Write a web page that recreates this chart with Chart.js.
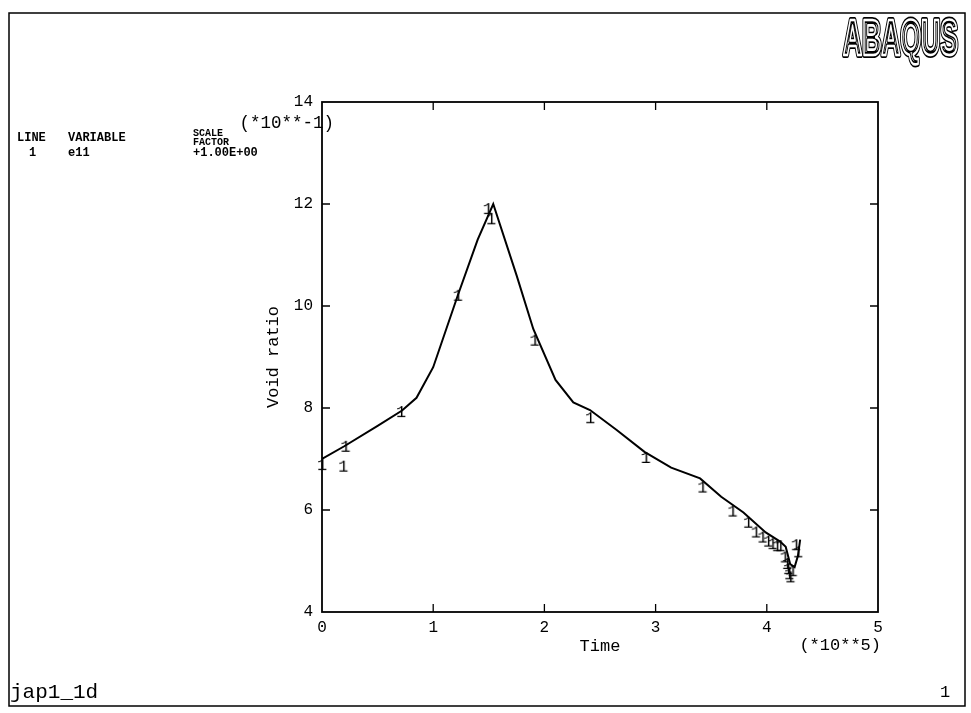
<!DOCTYPE html>
<html>
<head>
<meta charset="utf-8">
<script src="https://cdn.jsdelivr.net/npm/chart.js@4.4.1/dist/chart.umd.min.js"></script>
<style>
  html, body { margin: 0; padding: 0; background: #fff; }
  #wrap { width: 971px; height: 713px; position: relative; }
</style>
</head>
<body>
<div id="wrap"><canvas id="plot"></canvas></div>
<script>
  // Data block (time in 1e5, void ratio in 1e-1)
  const lineTime = [0, 0.2, 0.5, 0.72, 0.85, 1.0, 1.22, 1.4, 1.54, 1.75, 1.9, 2.1, 2.26, 2.41, 2.65, 2.9, 3.14, 3.4, 3.59, 3.79, 3.99, 4.12, 4.17, 4.21, 4.25, 4.28, 4.30];
  const lineVoid = [7.0, 7.25, 7.65, 7.95, 8.2, 8.8, 10.2, 11.3, 12.0, 10.6, 9.55, 8.55, 8.11, 7.96, 7.57, 7.14, 6.83, 6.62, 6.26, 5.95, 5.56, 5.38, 5.28, 4.94, 4.88, 5.1, 5.42];

  const markTime = [0.0, 0.19, 0.21, 0.71, 1.22, 1.49, 1.52, 1.91, 2.41, 2.91, 3.42, 3.69, 3.83, 3.90, 3.96, 4.01, 4.05, 4.09, 4.12, 4.16, 4.18, 4.19, 4.20, 4.21, 4.23, 4.26, 4.28];
  const markVoid = [6.88, 6.85, 7.24, 7.92, 10.2, 11.9, 11.7, 9.32, 7.80, 7.02, 6.44, 5.97, 5.75, 5.56, 5.46, 5.38, 5.33, 5.29, 5.29, 5.07, 4.94, 4.84, 4.74, 4.68, 4.80, 5.31, 5.17];

  const xTicks = [0, 1, 2, 3, 4, 5];
  const yTicks = [4, 6, 8, 10, 12, 14];

  const monoFont = "'Liberation Mono', 'DejaVu Sans Mono', monospace";

  // "1" glyph used as the curve marker
  const markGlyph = document.createElement('canvas');
  markGlyph.width = 12;
  markGlyph.height = 18;
  (function () {
    const g = markGlyph.getContext('2d');
    g.fillStyle = '#000';
    g.font = '17px ' + monoFont;
    g.textAlign = 'center';
    g.textBaseline = 'middle';
    g.fillText('1', 6, 9);
  })();

  const toXY = (xs, ys) => xs.map((v, i) => ({ x: v, y: ys[i] }));

  // Plugin - frame, inward ticks and the page texts
  const pageDeco = {
    id: 'pageDeco',
    afterDraw(chart) {
      const { ctx, chartArea: a, scales: { x, y } } = chart;
      ctx.save();
      ctx.strokeStyle = '#000';

      // page border
      ctx.lineWidth = 1.5;
      ctx.strokeRect(9, 13, 956, 693);

      // plot box
      ctx.lineWidth = 1.8;
      ctx.strokeRect(a.left, a.top, a.right - a.left, a.bottom - a.top);

      // inward ticks
      ctx.lineWidth = 1.3;
      ctx.beginPath();
      xTicks.slice(1, -1).forEach(v => {
        const px = x.getPixelForValue(v);
        ctx.moveTo(px, a.bottom); ctx.lineTo(px, a.bottom - 8);
        ctx.moveTo(px, a.top); ctx.lineTo(px, a.top + 8);
      });
      yTicks.slice(1, -1).forEach(v => {
        const py = y.getPixelForValue(v);
        ctx.moveTo(a.left, py); ctx.lineTo(a.left + 8, py);
        ctx.moveTo(a.right, py); ctx.lineTo(a.right - 8, py);
      });
      ctx.stroke();

      ctx.fillStyle = '#000';
      ctx.textBaseline = 'middle';

      // axis multipliers
      ctx.font = '17.5px ' + monoFont;
      ctx.textAlign = 'right';
      ctx.fillText('(*10**-1)', a.left + 12, a.top + 21);
      ctx.font = '17px ' + monoFont;
      ctx.fillText('(*10**5)', a.right + 3, 645);

      // legend block
      ctx.textAlign = 'left';
      ctx.font = 'bold 12px ' + monoFont;
      ctx.fillText('LINE', 17, 138);
      ctx.fillText('VARIABLE', 68, 138);
      ctx.fillText('1', 29, 153);
      ctx.fillText('e11', 68, 153);
      ctx.fillText('+1.00E+00', 193, 153);
      ctx.font = 'bold 10px ' + monoFont;
      ctx.fillText('SCALE', 193, 133);
      ctx.fillText('FACTOR', 193, 142);

      // footer
      ctx.font = '21px ' + monoFont;
      ctx.fillText('jap1_1d', 10, 692);
      ctx.font = '17px ' + monoFont;
      ctx.fillText('1', 940, 692);

      // ABAQUS logo, outlined
      ctx.save();
      ctx.translate(843, 55);
      ctx.scale(0.53, 1);
      ctx.font = 'bold 50px "Liberation Sans", Arial, sans-serif';
      ctx.textAlign = 'left';
      ctx.textBaseline = 'alphabetic';
      ctx.lineJoin = 'round';
      ctx.lineWidth = 6;
      ctx.strokeStyle = '#000';
      ctx.strokeText('ABAQUS', 0, 0);
      ctx.lineWidth = 2.6;
      ctx.strokeStyle = '#fff';
      ctx.strokeText('ABAQUS', 0, 0);
      ctx.restore();

      ctx.restore();
    }
  };

  // Config block
  const config = {
    type: 'scatter',
    data: {
      datasets: [
        {
          label: 'e11',
          data: toXY(lineTime, lineVoid),
          showLine: true,
          borderColor: '#000',
          borderWidth: 2,
          pointRadius: 0,
          tension: 0,
        },
        {
          label: 'markers',
          data: toXY(markTime, markVoid),
          showLine: false,
          clip: false,
          pointStyle: markGlyph,
          pointRadius: 6,
        },
      ],
    },
    options: {
      responsive: false,
      animation: false,
      layout: {
        padding: { left: 263, right: 93, top: 102, bottom: 56 }
      },
      scales: {
        x: {
          type: 'linear',
          min: 0,
          max: 5,
          afterFit: s => { s.height = 45; },
          afterBuildTicks: s => { s.ticks = xTicks.map(v => ({ value: v })); },
          grid: { display: false, drawTicks: false },
          border: { display: false },
          ticks: { color: '#000', padding: 6, font: { family: monoFont, size: 16 } },
          title: {
            display: true,
            text: 'Time',
            color: '#000',
            padding: 0,
            font: { family: monoFont, size: 17 }
          }
        },
        y: {
          type: 'linear',
          min: 4,
          max: 14,
          afterFit: s => { s.width = 59; },
          afterBuildTicks: s => { s.ticks = yTicks.map(v => ({ value: v })); },
          grid: { display: false, drawTicks: false },
          border: { display: false },
          ticks: { color: '#000', padding: 9, font: { family: monoFont, size: 16 } },
          title: {
            display: true,
            text: 'Void ratio',
            color: '#000',
            padding: 0,
            font: { family: monoFont, size: 17 }
          }
        }
      },
      plugins: {
        legend: { display: false },
        tooltip: { enabled: false }
      }
    },
    plugins: [pageDeco]
  };

  // render block
  const cv = document.getElementById('plot');
  cv.width = 971;
  cv.height = 713;
  const mychart = new Chart(cv, config);
</script>
</body>
</html>
